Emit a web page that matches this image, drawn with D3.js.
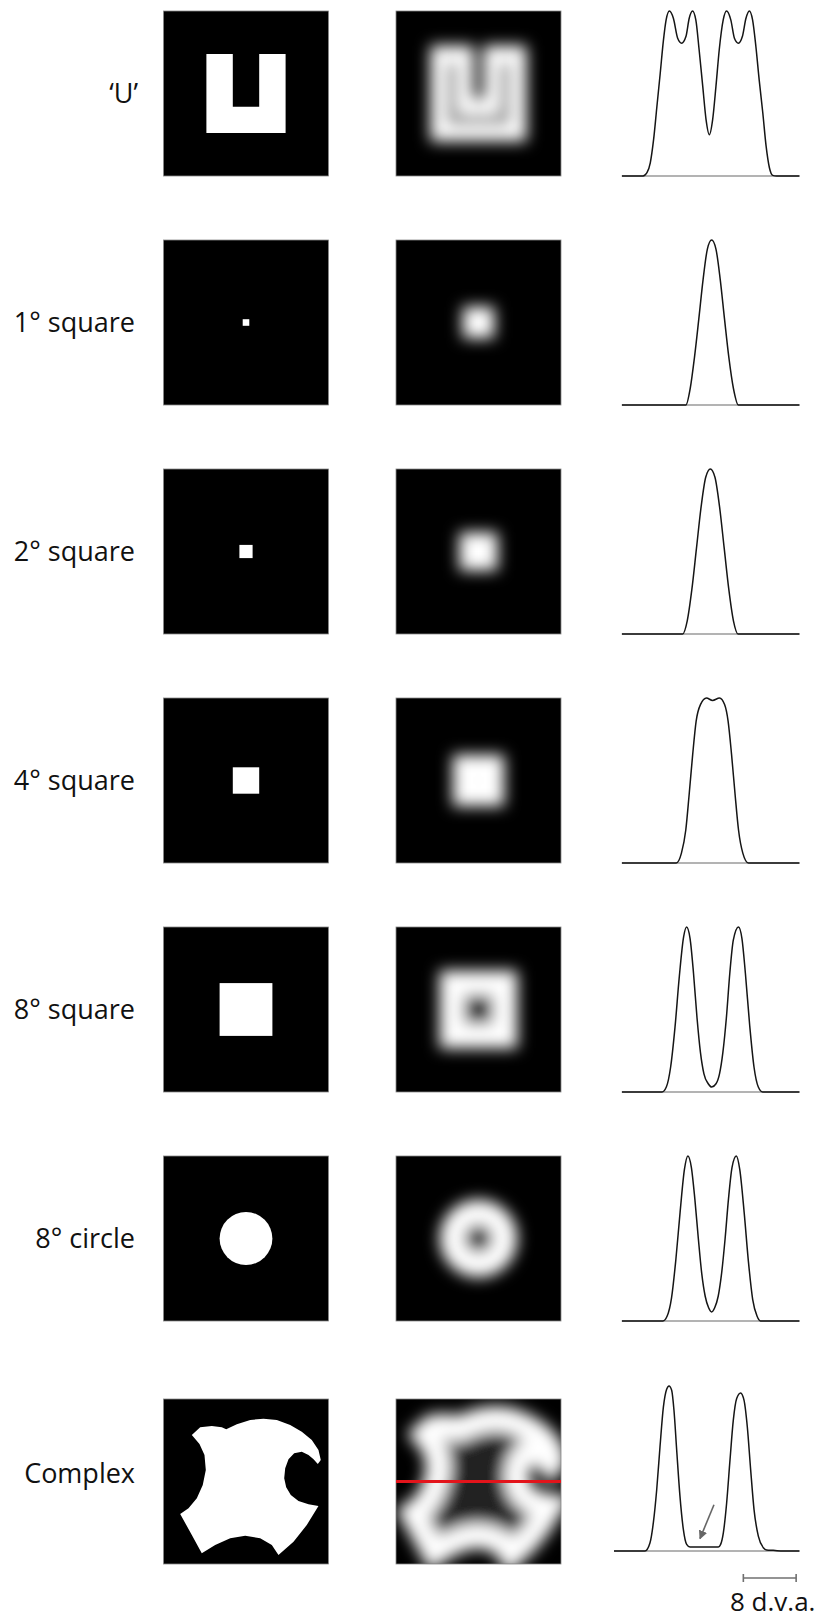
<!DOCTYPE html>
<html>
<head>
<meta charset="utf-8">
<script src="https://cdn.jsdelivr.net/npm/d3@7"></script>
<style>
  html, body { margin: 0; padding: 0; background: #fff; }
  svg { display: block; }
</style>
</head>
<body>
<script>
// ---------------- DATA ----------------
const rowLabels = ["\u2018U\u2019", "1\u00B0 square", "2\u00B0 square", "4\u00B0 square", "8\u00B0 square", "8\u00B0 circle", "Complex"];
const shapeKinds = ["poly", "rect", "rect", "rect", "rect", "circle", "poly"];
const shapeSizesDeg = [12, 1, 2, 4, 8, 8, null];

// outlines in degrees of visual angle, relative to image centre (y downward)
const uOutline = [[-6,-6],[-2,-6],[-2,2],[2,2],[2,-6],[6,-6],[6,6],[-6,6]];
const complexOutline = [
  [-8.21,-7.05],[-6.94,-8.21],[-5.18,-8.41],[-3.67,-8.21],[-3.0,-7.91],[-1.39,-8.67],
  [0.64,-9.32],[2.65,-9.52],[4.67,-9.32],[6.70,-8.56],[8.45,-7.55],[9.97,-6.29],
  [10.98,-4.77],[11.33,-3.26],[10.88,-2.65],[10.23,-3.36],[9.47,-4.02],[8.45,-4.52],
  [7.30,-4.27],[6.44,-3.36],[5.94,-2.0],[5.79,-0.48],[6.09,0.88],[6.79,2.05],
  [7.95,2.95],[9.47,3.45],[10.98,3.71],[9.21,6.59],[7.20,9.12],[4.92,11.14],
  [3.91,9.62],[2.15,8.61],[-0.12,8.21],[-2.39,8.61],[-4.67,9.62],[-6.70,10.88],
  [-8.21,8.11],[-9.97,4.92],[-8.71,4.06],[-7.45,2.55],[-6.55,0.53],[-6.09,-1.74],
  [-6.29,-4.02],[-7.05,-5.68]
];

// response profiles: [position (deg), normalised response]
const profileU = [[-13.5,0],[-10.3,0],[-9.7,0.02],[-9.2,0.08],[-8.7,0.22],[-8.2,0.42],[-7.7,0.62],[-7.2,0.825],[-6.8,0.946],[-6.3,1],[-5.7,0.956],[-5.05,0.835],[-4.45,0.805],[-3.8,0.845],[-3.3,0.956],[-2.8,1],[-2.3,0.946],[-1.8,0.765],[-1.25,0.543],[-0.75,0.342],[-0.25,0.25],[0.25,0.342],[0.75,0.543],[1.25,0.765],[1.85,0.946],[2.35,1],[3.0,0.946],[3.55,0.835],[4.15,0.805],[4.75,0.845],[5.3,0.956],[5.8,1],[6.3,0.946],[6.8,0.785],[7.3,0.583],[7.85,0.382],[8.35,0.181],[8.85,0.05],[9.35,0.004],[9.95,0],[13.4,0]];
const profileSq1 = [[-13.5,0],[-3.8,0],[-3.15,0.10],[-2.5,0.29],[-1.85,0.52],[-1.2,0.76],[-0.55,0.945],[0.1,1],[0.75,0.945],[1.4,0.76],[2.05,0.52],[2.7,0.29],[3.4,0.10],[4.15,0],[13.4,0]];
const profileSq2 = [[-13.5,0],[-4.3,0],[-3.6,0.08],[-2.9,0.27],[-2.2,0.52],[-1.5,0.77],[-0.8,0.95],[-0.1,1],[0.6,0.95],[1.3,0.77],[2.0,0.52],[2.7,0.27],[3.4,0.08],[4.1,0],[13.4,0]];
const profileSq4 = [[-13.5,0],[-5.27,0],[-4.48,0.06],[-3.82,0.2],[-3.30,0.42],[-2.77,0.66],[-2.25,0.86],[-1.60,0.96],[-0.68,1],[0.23,0.985],[1.29,1],[2.06,0.96],[2.59,0.86],[3.11,0.66],[3.64,0.42],[4.17,0.2],[4.82,0.06],[5.67,0],[13.4,0]];
const profileSq8 = [[-13.5,0],[-7.42,0],[-6.77,0.03],[-6.12,0.15],[-5.46,0.39],[-4.80,0.70],[-4.15,0.94],[-3.70,1],[-3.17,0.93],[-2.65,0.72],[-2.12,0.45],[-1.60,0.24],[-1.07,0.11],[-0.42,0.05],[0.10,0.03],[0.76,0.05],[1.29,0.11],[1.80,0.24],[2.33,0.45],[2.85,0.72],[3.38,0.92],[4.17,1],[4.69,0.93],[5.21,0.72],[5.87,0.40],[6.52,0.15],[7.17,0.03],[7.83,0],[13.4,0]];
const profileCircle8 = [[-13.5,0],[-7.29,0],[-6.64,0.03],[-5.98,0.14],[-5.33,0.37],[-4.68,0.66],[-4.02,0.92],[-3.50,1],[-2.97,0.93],[-2.45,0.74],[-1.92,0.50],[-1.41,0.29],[-0.88,0.15],[-0.36,0.08],[0.10,0.055],[0.56,0.08],[1.09,0.15],[1.61,0.29],[2.14,0.50],[2.65,0.74],[3.18,0.93],[3.83,1],[4.35,0.92],[5.02,0.66],[5.67,0.36],[6.32,0.13],[6.97,0.03],[7.50,0],[13.4,0]];
const profileComplex = [[-14.7,0],[-10.0,0],[-9.24,0.05],[-8.74,0.17],[-8.23,0.37],[-7.73,0.63],[-7.22,0.87],[-6.72,0.98],[-6.36,1],[-5.96,0.974],[-5.61,0.853],[-5.20,0.612],[-4.70,0.331],[-4.19,0.131],[-3.69,0.04],[-3.18,0.024],[1.11,0.024],[1.46,0.04],[1.87,0.11],[2.37,0.291],[2.88,0.552],[3.38,0.793],[3.89,0.924],[4.49,0.958],[5.0,0.914],[5.50,0.753],[6.01,0.492],[6.52,0.251],[7.17,0.09],[7.93,0.02],[8.43,0.006],[9.44,0.004],[10.95,0],[13.4,0]];
const profiles = [profileU, profileSq1, profileSq2, profileSq4, profileSq8, profileCircle8, profileComplex];

const arrowDeg = [0.45, -1.67];      // annotation arrow: tail -> tip (deg)
const arrowVal = [0.28, 0.075];      // annotation arrow: tail -> tip (response)
const scaleBarDeg = [4.9, 12.9];     // 8 d.v.a. scale bar
const scaleBarLabel = "8 d.v.a.";

// ---------------- LAYOUT ----------------
const W = 824, H = 1618;
const SQ = 165;              // image side in px
const IMG_DEG = 25;          // image side in degrees
const COL1 = 163.5, COL2 = 396;
const PCX = 711;             // profile centre x
const rowTop = i => i < 6 ? 11 + 229 * i : 1399;
const profileTop = i => i < 6 ? rowTop(i) : rowTop(i) - 13;
const ringWidth = i => i === 0 ? 17 : 25;

const svg = d3.select("body").append("svg").attr("width", W).attr("height", H);
const defs = svg.append("defs");
defs.append("filter").attr("id", "blur")
  .attr("filterUnits", "userSpaceOnUse")
  .attr("x", 0).attr("y", 0).attr("width", W).attr("height", H)
  .append("feGaussianBlur").attr("stdDeviation", 7.5);

const mk = defs.append("marker").attr("id", "arrowhead")
  .attr("viewBox", "0 0 10 10").attr("refX", 9).attr("refY", 5)
  .attr("markerWidth", 5.5).attr("markerHeight", 5.5).attr("orient", "auto")
  .attr("markerUnits", "strokeWidth");
mk.append("path").attr("d", "M0,0 L10,5 L0,10 Z").attr("fill", "#666");

const xP = d3.scaleLinear().domain([-IMG_DEG / 2, IMG_DEG / 2]).range([PCX - SQ / 2, PCX + SQ / 2]);

function drawShape(g, i, sx, sy, style) {
  const kind = shapeKinds[i];
  let el;
  if (kind === "rect") {
    const s = shapeSizesDeg[i];
    el = g.append("rect").attr("x", sx(-s / 2)).attr("y", sy(-s / 2))
      .attr("width", sx(s / 2) - sx(-s / 2)).attr("height", sy(s / 2) - sy(-s / 2));
  } else if (kind === "circle") {
    const s = shapeSizesDeg[i];
    el = g.append("circle").attr("cx", sx(0)).attr("cy", sy(0)).attr("r", (sx(s / 2) - sx(-s / 2)) / 2);
  } else {
    const pts = i === 0 ? uOutline : complexOutline;
    el = g.append("path").attr("d", d3.line().x(p => sx(p[0])).y(p => sy(p[1])).curve(d3.curveLinearClosed)(pts));
  }
  for (const k in style) el.attr(k, style[k]);
  return el;
}

rowLabels.forEach((label, i) => {
  const top = rowTop(i);
  const sy = d3.scaleLinear().domain([-IMG_DEG / 2, IMG_DEG / 2]).range([top, top + SQ]);
  const sx1 = d3.scaleLinear().domain([-IMG_DEG / 2, IMG_DEG / 2]).range([COL1, COL1 + SQ]);
  const sx2 = d3.scaleLinear().domain([-IMG_DEG / 2, IMG_DEG / 2]).range([COL2, COL2 + SQ]);

  // label
  const ly = i === 6 ? top + 84.3 : top + SQ / 2 + (i === 0 ? 9.6 : 9);
  svg.append("text").attr("x", i === 0 ? 138 : 135).attr("y", ly)
    .attr("text-anchor", "end")
    .attr("font-family", "'Open Sans', sans-serif").attr("font-size", 27)
    .attr("fill", "#111").text(label);

  // stimulus image
  svg.append("rect").attr("x", COL1).attr("y", top).attr("width", SQ).attr("height", SQ)
    .attr("fill", "#000").attr("stroke", "#888").attr("stroke-width", 0.8);
  drawShape(svg.append("g"), i, sx1, sy, { fill: "#fff" });

  // blurred response image
  const cid = "clip" + i;
  defs.append("clipPath").attr("id", cid).append("rect")
    .attr("x", COL2).attr("y", top).attr("width", SQ).attr("height", SQ);
  const g2 = svg.append("g").attr("clip-path", `url(#${cid})`);
  g2.append("rect").attr("x", COL2).attr("y", top).attr("width", SQ).attr("height", SQ).attr("fill", "#000");
  const gb = g2.append("g").attr("filter", "url(#blur)");
  drawShape(gb, i, sx2, sy, { fill: i === 0 ? "#777" : "#202020", stroke: "#fff", "stroke-width": ringWidth(i), "stroke-linejoin": "miter" });
  svg.append("rect").attr("x", COL2).attr("y", top).attr("width", SQ).attr("height", SQ)
    .attr("fill", "none").attr("stroke", "#888").attr("stroke-width", 0.8);
  if (i === 6) {
    svg.append("line").attr("x1", COL2).attr("x2", COL2 + SQ).attr("y1", sy(0)).attr("y2", sy(0))
      .attr("stroke", "#e3141b").attr("stroke-width", 3.2);
  }

  // profile
  const pt = profileTop(i);
  const yP = d3.scaleLinear().domain([0, 1]).range([pt + SQ, pt]);
  const data = profiles[i];
  svg.append("line")
    .attr("x1", xP(data[0][0])).attr("x2", xP(data[data.length - 1][0]))
    .attr("y1", yP(0)).attr("y2", yP(0))
    .attr("stroke", "#9a9a9a").attr("stroke-width", 1.3);
  svg.append("path").datum(data)
    .attr("d", d3.line().x(d => xP(d[0])).y(d => yP(d[1])).curve(d3.curveMonotoneX))
    .attr("fill", "none").attr("stroke", "#151515").attr("stroke-width", 1.5)
    .attr("stroke-linejoin", "round");

  if (i === 6) {
    svg.append("line")
      .attr("x1", xP(arrowDeg[0])).attr("y1", yP(arrowVal[0]))
      .attr("x2", xP(arrowDeg[1])).attr("y2", yP(arrowVal[1]))
      .attr("stroke", "#666").attr("stroke-width", 1.6)
      .attr("marker-end", "url(#arrowhead)");

    const by = 1578;
    const gs = svg.append("g").attr("stroke", "#707070").attr("stroke-width", 1.6);
    gs.append("line").attr("x1", xP(scaleBarDeg[0])).attr("x2", xP(scaleBarDeg[1])).attr("y1", by).attr("y2", by);
    scaleBarDeg.forEach(d => gs.append("line").attr("x1", xP(d)).attr("x2", xP(d)).attr("y1", by - 4).attr("y2", by + 4));
    svg.append("text").attr("x", 730).attr("y", 1611)
      .attr("font-family", "'Open Sans', sans-serif").attr("font-size", 26)
      .attr("fill", "#111").text(scaleBarLabel);
  }
});
</script>
</body>
</html>
